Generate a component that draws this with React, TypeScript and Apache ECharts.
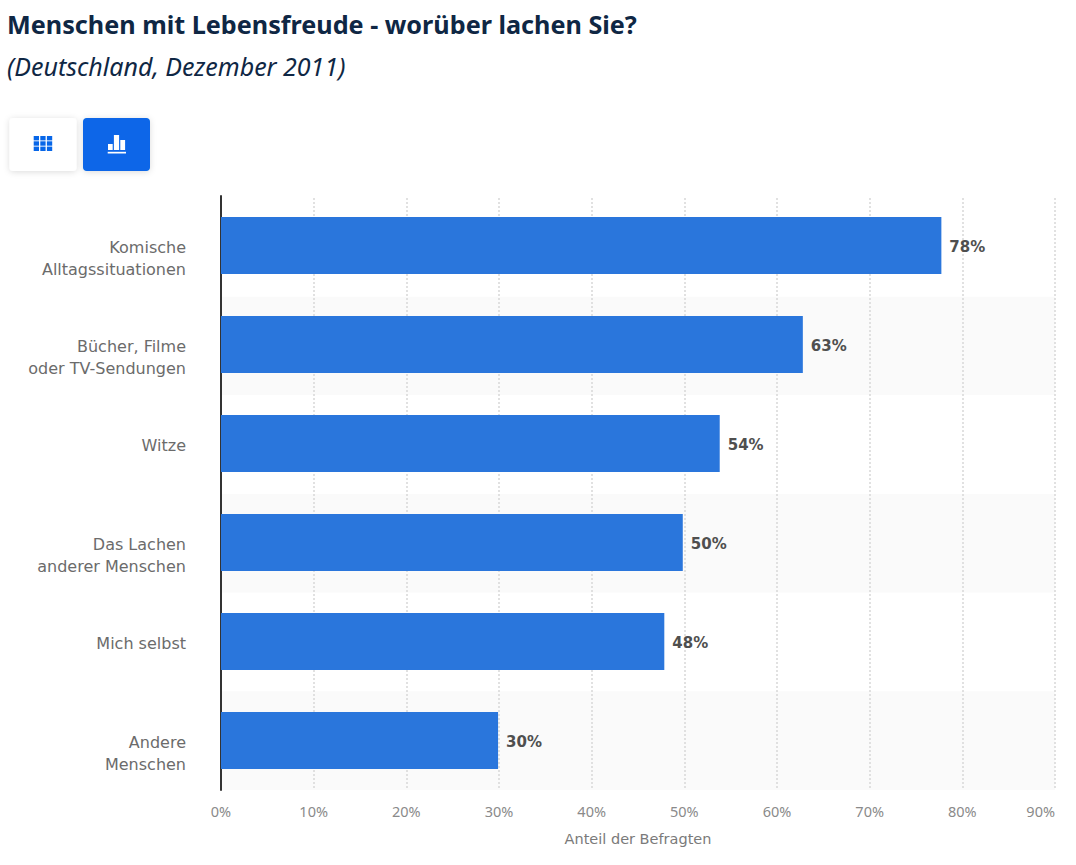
import React, { useEffect, useRef } from "react";
import * as echarts from "echarts";

const titleText = "Menschen mit Lebensfreude - worüber lachen Sie?";
const subtitleText = "(Deutschland, Dezember 2011)";
const categories = [
  "Komische\nAlltagssituationen",
  "Bücher, Filme\noder TV-Sendungen",
  "Witze",
  "Das Lachen\nanderer Menschen",
  "Mich selbst",
  "Andere\nMenschen",
];
const values = [78, 63, 54, 50, 48, 30];
const axisName = "Anteil der Befragten";
const BLUE = "#0766e8";

const gridCells: any[] = [];
for (let r = 0; r < 3; r++) {
  for (let c = 0; c < 3; c++) {
    gridCells.push({
      type: "rect",
      shape: { x: 33.7 + c * 6.6, y: 136 + r * 5.3, width: 5.3, height: 4.4 },
      style: { fill: BLUE },
    });
  }
}

export default function App() {
  const ref = useRef<HTMLDivElement>(null);
  useEffect(() => {
    const chart = echarts.init(ref.current!, null, { renderer: "svg" });
    chart.setOption({
      animation: false,
      backgroundColor: "#ffffff",
      textStyle: { fontFamily: "DejaVu Sans" },
      title: [
        {
          text: titleText,
          left: 2,
          top: 6,
          textStyle: { fontFamily: "Noto Sans", fontSize: 25.2, fontWeight: 700, color: "#0f2744" },
        },
        {
          text: subtitleText,
          left: 2,
          top: 48,
          textStyle: { fontFamily: "Noto Sans", fontSize: 25, fontWeight: 400, fontStyle: "italic", color: "#0f2744" },
        },
      ],
      grid: [
        { left: 221, top: 198, width: 834, height: 592 },
        { left: 221, top: 196, width: 831.2, height: 594 },
      ],
      xAxis: [
        {
          gridIndex: 0,
          type: "value",
          min: 0,
          max: 90,
          interval: 10,
          axisLine: { show: false },
          axisTick: { show: false },
          axisLabel: {
            formatter: "{value}%",
            color: "#8a8a8a",
            fontFamily: "Noto Sans",
            fontSize: 14.5,
            margin: 13.5,
            alignMaxLabel: "right",
            showMinLabel: true,
            showMaxLabel: true,
          },
          splitLine: { show: true, lineStyle: { color: "#d8d8d8", type: [2, 2], width: 1.5 } },
          name: axisName,
          nameLocation: "middle",
          nameGap: 41,
          nameTextStyle: { color: "#7a7a7a", fontSize: 14.5 },
        },
        {
          gridIndex: 1,
          type: "value",
          min: 0,
          max: 90,
          interval: 10,
          show: false,
          splitLine: { show: false },
        },
      ],
      yAxis: [
        {
          gridIndex: 0,
          type: "category",
          inverse: true,
          data: categories,
          axisLine: { show: false },
          axisTick: { show: false },
          axisLabel: { show: false },
          splitArea: { show: true, areaStyle: { color: ["#ffffff", "#fafafa"] } },
        },
        {
          gridIndex: 1,
          type: "category",
          inverse: true,
          data: categories,
          axisLine: { show: true, onZero: false, lineStyle: { color: "#333333", width: 2 } },
          axisTick: { show: false },
          axisLabel: {
            color: "#6b6b6b",
            fontSize: 16,
            margin: 35,
            lineHeight: 22,
            align: "right",
            verticalAlign: "top",
            padding: [-9, 0, 0, 0],
          },
          splitLine: { show: false },
          splitArea: { show: false },
        },
      ],
      series: [
        {
          type: "bar",
          xAxisIndex: 1,
          yAxisIndex: 1,
          data: values,
          barWidth: 57,
          itemStyle: { color: "#2a76dc" },
          label: {
            show: true,
            position: "right",
            distance: 8,
            offset: [0, 1.5],
            formatter: "{c}%",
            color: "#4f4f4f",
            fontSize: 15,
            fontWeight: 700,
          },
        },
      ],
      graphic: [
        {
          type: "rect",
          shape: { x: 9.5, y: 118, width: 67, height: 53, r: 4 },
          style: { fill: "#ffffff", shadowBlur: 6, shadowColor: "rgba(0,0,0,0.14)", shadowOffsetY: 1 },
        },
        {
          type: "rect",
          shape: { x: 83, y: 118, width: 67, height: 53, r: 4 },
          style: { fill: BLUE, shadowBlur: 6, shadowColor: "rgba(0,0,0,0.14)", shadowOffsetY: 1 },
        },
        { type: "group", children: gridCells },
        { type: "rect", shape: { x: 108, y: 144, width: 4.7, height: 6 }, style: { fill: "#ffffff" } },
        { type: "rect", shape: { x: 113.9, y: 135, width: 5.2, height: 15 }, style: { fill: "#ffffff" } },
        { type: "rect", shape: { x: 120.3, y: 140, width: 4.8, height: 10 }, style: { fill: "#ffffff" } },
        { type: "rect", shape: { x: 107.7, y: 151.8, width: 18.3, height: 1.7 }, style: { fill: "#ffffff" } },
      ],
    });
    return () => chart.dispose();
  }, []);
  return <div ref={ref} style={{ position: "absolute", left: 0, top: 0, width: 1076, height: 865 }} />;
}
